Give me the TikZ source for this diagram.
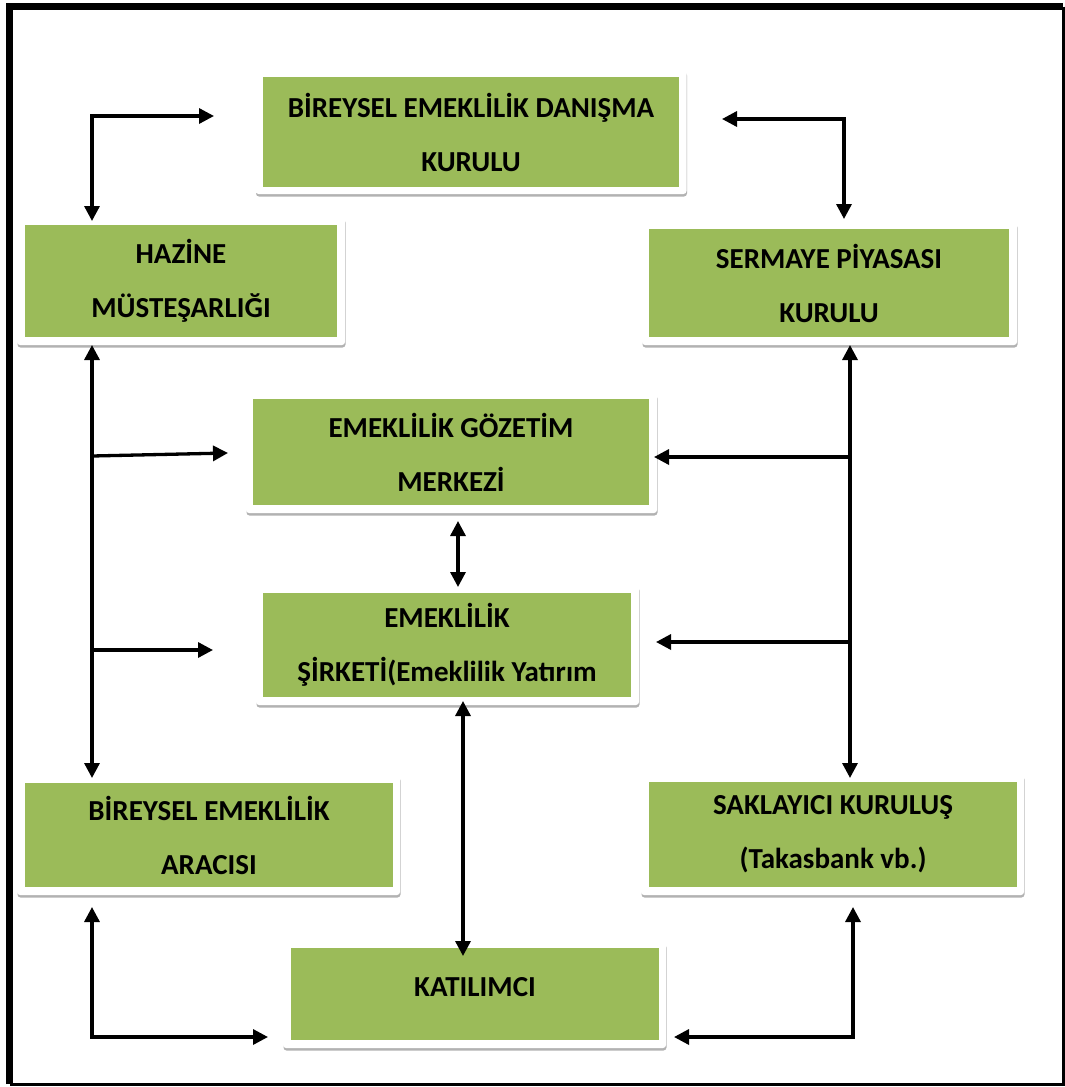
\documentclass[tikz,border=0pt]{standalone}
\usepackage{fontspec}
\setmainfont{Carlito}
\usetikzlibrary{shadows,arrows.meta,calc}
\definecolor{boxgreen}{RGB}{155,187,89}
\begin{document}
\begin{tikzpicture}[x=1pt,y=-1pt,
  frame/.style={fill=white, rounded corners=3pt, inner sep=0pt,
    drop shadow={shadow xshift=0.5pt, shadow yshift=-2.5pt, opacity=0.3, fill=black}},
  greenbox/.style={fill=boxgreen, inner sep=0pt, align=center,
    font=\fontsize{29}{54}\selectfont\bfseries},
  conn/.style={line width=3.3pt, {Triangle[length=15pt,width=15pt]}-{Triangle[length=15pt,width=15pt]}},
  arr/.style={line width=3.3pt, -{Triangle[length=15pt,width=15pt]}}]
\useasboundingbox (0,0) rectangle (1065,1087);
% outer frame
\draw[line width=7pt] (9.5,1084) -- (9.5,6.5) -- (1063,6.5);
\draw[line width=3pt] (1063,6.5) -- (1063,1084.5) -- (9.5,1084.5);

% boxes (white frame + green body)
\node[frame, minimum width=431pt, minimum height=124pt] (bedkO) at (471,132) {};
\node[greenbox, minimum width=416pt, minimum height=110pt] (bedk) at (471,132) {BİREYSEL EMEKLİLİK DANIŞMA\\KURULU};

\node[frame, minimum width=328pt, minimum height=128pt] (hzO) at (181,281) {};
\node[greenbox, minimum width=312pt, minimum height=112pt] (hz) at (181,281) {HAZİNE\\MÜSTEŞARLIĞI};

\node[frame, minimum width=375pt, minimum height=123pt] (spkO) at (829.5,283.5) {};
\node[greenbox, minimum width=360pt, minimum height=108pt] (spk) at (829,283) {SERMAYE PİYASASI\\KURULU};

\node[frame, minimum width=411pt, minimum height=120pt] (egmO) at (451.5,453) {};
\node[greenbox, minimum width=396pt, minimum height=106pt] (egm) at (451,452) {EMEKLİLİK GÖZETİM\\MERKEZİ};

\node[frame, minimum width=383pt, minimum height=120pt] (esO) at (447.5,645) {};
\node[greenbox, minimum width=368pt, minimum height=104pt] (es) at (447,645) {EMEKLİLİK\\ŞİRKETİ(Emeklilik Yatırım};

\node[frame, minimum width=383pt, minimum height=120pt] (beaO) at (208.5,835) {};
\node[greenbox, minimum width=368pt, minimum height=104pt] (bea) at (209,835) {BİREYSEL EMEKLİLİK\\ARACISI};

\node[frame, minimum width=383pt, minimum height=121pt] (skO) at (832.5,834.5) {};
\node[greenbox, minimum width=368pt, minimum height=105pt] (sk) at (833,834.5) {SAKLAYICI KURULUŞ\\(Takasbank vb.)};

\node[frame, minimum width=383pt, minimum height=106pt] (katO) at (474.5,995) {};
\node[greenbox, minimum width=368pt, minimum height=92pt, text height=20pt, text depth=15.5pt] (kat) at (475,994) {KATILIMCI};

% connector end points
\coordinate (a1) at (214,116);
\coordinate (a1b) at (92,221);
\coordinate (a2) at (722,119);
\coordinate (a2b) at (844,219);
\coordinate (lTop) at (92,345);
\coordinate (lBot) at (92,778);
\coordinate (rTop) at (850,345);
\coordinate (rBot) at (850,778);
\coordinate (bL1) at (92,456);
\coordinate (egmL) at (228,453);
\coordinate (bL2) at (92,650);
\coordinate (esL) at (213,650);
\coordinate (bR1) at (850,457);
\coordinate (egmR) at (654,457);
\coordinate (bR2) at (850,642);
\coordinate (esR) at (656,642);
\coordinate (m1) at (458,521);
\coordinate (m2) at (458,587);
\coordinate (m3) at (463,701);
\coordinate (m4) at (463,956);
\coordinate (b1) at (92,907);
\coordinate (b1c) at (92,1037);
\coordinate (b1e) at (268,1037);
\coordinate (b2) at (853,907);
\coordinate (b2c) at (853,1037);
\coordinate (b2e) at (674,1037);

% connectors
\draw[conn] (a1) -| (a1b);
\draw[conn] (a2) -| (a2b);
\draw[conn] (lTop) -- (lBot);
\draw[conn] (rTop) -- (rBot);
\draw[arr] (bL1) -- (egmL);
\draw[arr] (bL2) -- (esL);
\draw[arr] (bR1) -- (egmR);
\draw[arr] (bR2) -- (esR);
\draw[conn] (m1) -- (m2);
\draw[conn] (m3) -- (m4);
\draw[conn] (b1) -- (b1c) -- (b1e);
\draw[conn] (b2) -- (b2c) -- (b2e);
\end{tikzpicture}
\end{document}
